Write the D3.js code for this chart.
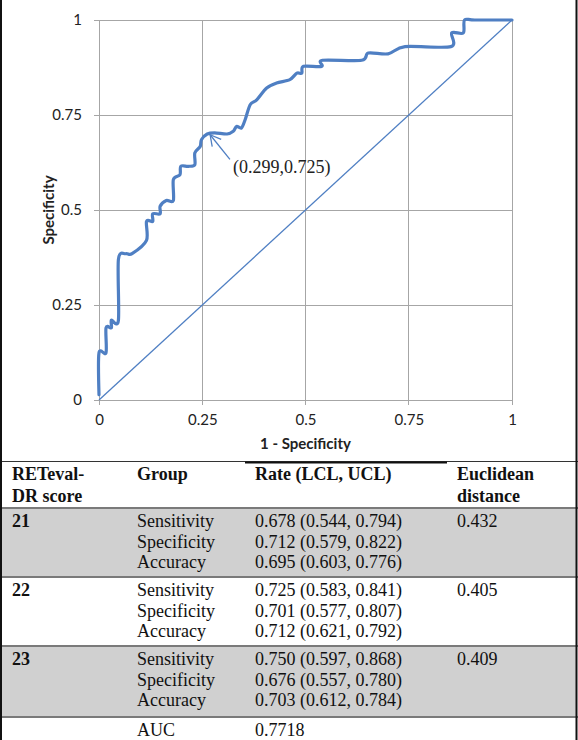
<!DOCTYPE html>
<html>
<head>
<meta charset="utf-8">
<script src="https://cdn.jsdelivr.net/npm/d3@7"></script>
<style>
  html, body { margin: 0; padding: 0; background: #fff; }
  svg { display: block; }
</style>
</head>
<body>
<svg id="chart" width="578" height="740"></svg>
<script>
// ---------- DATA ----------
const rocFpr = [0, 0, 0.017, 0.017, 0.03, 0.03, 0.047, 0.047, 0.065, 0.08, 0.115, 0.115, 0.13, 0.13, 0.148, 0.148, 0.163, 0.18, 0.18, 0.196, 0.198, 0.216, 0.232, 0.232, 0.245, 0.248, 0.262, 0.28, 0.31, 0.325, 0.333, 0.345, 0.354, 0.366, 0.382, 0.406, 0.43, 0.462, 0.479, 0.491, 0.495, 0.539, 0.541, 0.636, 0.652, 0.70, 0.741, 0.852, 0.854, 0.882, 0.885, 0.91, 1];
const rocTpr = [0.014, 0.124, 0.124, 0.19, 0.19, 0.21, 0.21, 0.37, 0.385, 0.385, 0.42, 0.47, 0.47, 0.49, 0.49, 0.51, 0.525, 0.525, 0.58, 0.593, 0.615, 0.615, 0.619, 0.65, 0.667, 0.685, 0.70, 0.703, 0.70, 0.707, 0.72, 0.716, 0.738, 0.777, 0.79, 0.821, 0.834, 0.843, 0.86, 0.86, 0.878, 0.878, 0.894, 0.894, 0.913, 0.911, 0.93, 0.93, 0.966, 0.966, 1.0, 1.0, 1];
const refLine = [[0, 0], [1, 1]];
const ticks = [0, 0.25, 0.5, 0.75, 1];
const tickLabels = ["0", "0.25", "0.5", "0.75", "1"];
const annotTip = [0.269, 0.698];
const annotTail = [0.317, 0.633];
const annotText = "(0.299,0.725)";
const xTitle = "1 - Specificity";
const yTitle = "Specificity";

const headers = [["RETeval-", "DR score"], ["Group"], ["Rate (LCL, UCL)"], ["Euclidean", "distance"]];
const scores = ["21", "22", "23"];
const groups = ["Sensitivity", "Specificity", "Accuracy"];
const rates = [
  ["0.678 (0.544, 0.794)", "0.712 (0.579, 0.822)", "0.695 (0.603, 0.776)"],
  ["0.725 (0.583, 0.841)", "0.701 (0.577, 0.807)", "0.712 (0.621, 0.792)"],
  ["0.750 (0.597, 0.868)", "0.676 (0.557, 0.780)", "0.703 (0.612, 0.784)"]
];
const euclid = ["0.432", "0.405", "0.409"];
const aucLabel = "AUC";
const aucValue = "0.7718";

// ---------- CHART ----------
const svg = d3.select("#chart");
const x = d3.scaleLinear().domain([0, 1]).range([99, 512]);
const y = d3.scaleLinear().domain([0, 1]).range([400, 20]);
const gridColor = "#a6a6a6";
const blue = "#4f7fc3";
const sans = "Lato, 'Open Sans', sans-serif";
const serif = "'Liberation Serif', 'Times New Roman', serif";

const g = svg.append("g");

// gridlines
g.selectAll("line.vg").data(ticks).join("line")
  .attr("x1", d => x(d)).attr("x2", d => x(d))
  .attr("y1", y(1)).attr("y2", y(0) + 5)
  .attr("stroke", gridColor).attr("stroke-width", 1).attr("shape-rendering", "crispEdges");
g.selectAll("line.hg").data(ticks).join("line")
  .attr("y1", d => y(d)).attr("y2", d => y(d))
  .attr("x1", x(0) - 5).attr("x2", x(1))
  .attr("stroke", gridColor).attr("stroke-width", 1).attr("shape-rendering", "crispEdges");

// axes labels via d3 axes (lines hidden, text only)
const xAxis = d3.axisBottom(x).tickValues(ticks).tickFormat((d, i) => tickLabels[i]).tickSize(0).tickPadding(14);
const yAxis = d3.axisLeft(y).tickValues(ticks).tickFormat((d, i) => tickLabels[i]).tickSize(0).tickPadding(17);
const gx = g.append("g").attr("transform", `translate(0,${y(0)})`).call(xAxis);
const gy = g.append("g").attr("transform", `translate(${x(0)},0)`).call(yAxis);
[gx, gy].forEach(a => {
  a.select(".domain").remove();
  a.selectAll("text").attr("font-family", sans).attr("font-size", 15).attr("fill", "#222");
});

// reference diagonal
const line = d3.line().x(d => x(d[0])).y(d => y(d[1]));
g.append("path").datum(refLine).attr("d", line)
  .attr("fill", "none").attr("stroke", blue).attr("stroke-width", 1.3);

// ROC curve
const rocPts = rocFpr.map((f, i) => [f, rocTpr[i]]);
const smooth = d3.line().x(d => x(d[0])).y(d => y(d[1])).curve(d3.curveCardinal.tension(0.1));
g.append("path").datum(rocPts).attr("d", smooth)
  .attr("fill", "none").attr("stroke", blue).attr("stroke-width", 3.2)
  .attr("stroke-linejoin", "round").attr("stroke-linecap", "round");

// annotation arrow
const tip = [x(annotTip[0]), y(annotTip[1])];
const tail = [x(annotTail[0]), y(annotTail[1])];
g.append("line").attr("x1", tail[0]).attr("y1", tail[1]).attr("x2", tip[0]).attr("y2", tip[1])
  .attr("stroke", blue).attr("stroke-width", 1.3);
const ang = Math.atan2(tail[1] - tip[1], tail[0] - tip[0]);
[-0.5, 0.5].forEach(da => {
  g.append("line").attr("x1", tip[0]).attr("y1", tip[1])
    .attr("x2", tip[0] + 12 * Math.cos(ang + da)).attr("y2", tip[1] + 12 * Math.sin(ang + da))
    .attr("stroke", blue).attr("stroke-width", 1.3);
});
g.append("text").attr("x", tail[0] + 3).attr("y", tail[1] + 14)
  .attr("font-family", serif).attr("font-size", 18).attr("fill", "#222").text(annotText);

// axis titles
g.append("text").attr("x", x(0.5)).attr("y", 449).attr("text-anchor", "middle")
  .attr("font-family", sans).attr("font-weight", "bold").attr("font-size", 15).attr("fill", "#222").text(xTitle);
g.append("text").attr("transform", `translate(54,${y(0.5)}) rotate(-90)`).attr("text-anchor", "middle")
  .attr("font-family", sans).attr("font-weight", "bold").attr("font-size", 15).attr("fill", "#222").text(yTitle);

// ---------- TABLE ----------
const colX = [12, 137, 255, 457];
const rowTop = [508, 577, 646, 717];
const t = svg.append("g").attr("font-family", serif).attr("font-size", 18).attr("fill", "#111");

// shaded rows
t.selectAll("rect.shade").data([0, 2]).join("rect")
  .attr("x", 2).attr("width", 574)
  .attr("y", d => rowTop[d]).attr("height", d => rowTop[d + 1] - rowTop[d])
  .attr("fill", "#d0d0d0");

// row separators
t.selectAll("line.sep").data(rowTop).join("line")
  .attr("x1", 0).attr("x2", 578).attr("y1", d => d).attr("y2", d => d)
  .attr("stroke", "#7a7a7a").attr("stroke-width", 2);

// chart box bottom / header top
svg.append("line").attr("x1", 0).attr("x2", 578).attr("y1", 461.5).attr("y2", 461.5)
  .attr("stroke", "#333").attr("stroke-width", 1.2);
svg.append("line").attr("x1", 245).attr("x2", 447).attr("y1", 462.5).attr("y2", 462.5)
  .attr("stroke", "#111").attr("stroke-width", 2);

// headers
headers.forEach((lines, ci) => {
  lines.forEach((txt, li) => {
    t.append("text").attr("x", colX[ci]).attr("y", 480 + li * 22)
      .attr("font-weight", "bold").text(txt);
  });
});

// body rows
scores.forEach((s, ri) => {
  const base = rowTop[ri] + 19;
  t.append("text").attr("x", colX[0]).attr("y", base).attr("font-weight", "bold").text(s);
  groups.forEach((gname, gi) => {
    t.append("text").attr("x", colX[1]).attr("y", base + gi * 20.5).text(gname);
    t.append("text").attr("x", colX[2]).attr("y", base + gi * 20.5).text(rates[ri][gi]);
  });
  t.append("text").attr("x", colX[3]).attr("y", base).text(euclid[ri]);
});
t.append("text").attr("x", colX[1]).attr("y", rowTop[3] + 19).text(aucLabel);
t.append("text").attr("x", colX[2]).attr("y", rowTop[3] + 19).text(aucValue);

// outer borders
svg.append("line").attr("x1", 1).attr("x2", 1).attr("y1", 0).attr("y2", 740).attr("stroke", "#111").attr("stroke-width", 2);
svg.append("line").attr("x1", 576.5).attr("x2", 576.5).attr("y1", 0).attr("y2", 740).attr("stroke", "#111").attr("stroke-width", 2);
</script>
</body>
</html>
